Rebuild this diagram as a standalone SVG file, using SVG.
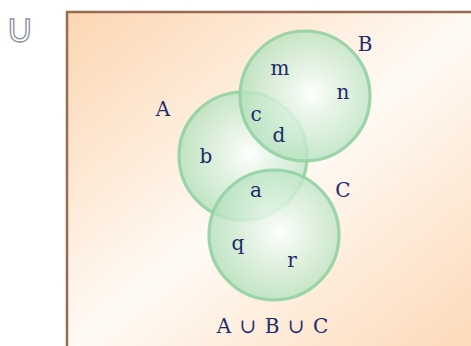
<svg xmlns="http://www.w3.org/2000/svg" width="471" height="346" viewBox="0 0 471 346">
<defs>
<linearGradient id="bg" x1="0" y1="0" x2="1" y2="1">
<stop offset="0" stop-color="#fcd6b2"/>
<stop offset="0.5" stop-color="#fffaf4"/>
<stop offset="1" stop-color="#fcd8b6"/>
</linearGradient>
<radialGradient id="cg" cx="0.55" cy="0.48" r="0.55">
<stop offset="0" stop-color="#ffffff" stop-opacity="0.95"/>
<stop offset="0.55" stop-color="#d3eed8" stop-opacity="0.8"/>
<stop offset="1" stop-color="#b2e0bb" stop-opacity="0.8"/>
</radialGradient>
</defs>
<style>
.c{fill:url(#cg);stroke:#92d2a2;stroke-width:3.2;stroke-opacity:0.9}
.t{font-family:"DejaVu Serif","Liberation Serif",serif;fill:#1e2a6c;font-size:20px;text-anchor:middle}
</style>
<rect x="0" y="0" width="471" height="346" fill="#ffffff"/>
<rect id="universe" x="67" y="12" width="420" height="340" fill="url(#bg)" stroke="#9b6a52" stroke-width="2.5"/>
<text x="20" y="42" font-family="DejaVu Sans, sans-serif" font-size="40" fill="#ffffff" stroke="#8a8f99" stroke-width="1.3" text-anchor="middle">∪</text>
<g id="setA"><circle class="c" cx="243" cy="156" r="64"/></g>
<g id="setB"><circle class="c" cx="305" cy="96" r="65"/></g>
<g id="setC"><circle class="c" cx="274" cy="235" r="65"/></g>
<g id="labels">
<text class="t" x="365" y="51">B</text>
<text class="t" x="163" y="116">A</text>
<text class="t" x="343" y="197">C</text>
<text class="t" x="280" y="75">m</text>
<text class="t" x="343" y="99">n</text>
<text class="t" x="256" y="121">c</text>
<text class="t" x="279" y="142">d</text>
<text class="t" x="206" y="163">b</text>
<text class="t" x="256" y="197">a</text>
<text class="t" x="238" y="250">q</text>
<text class="t" x="292" y="267">r</text>
<text class="t" x="273" y="333" font-size="21" letter-spacing="1">A ∪ B ∪ C</text>
</g>
</svg>
